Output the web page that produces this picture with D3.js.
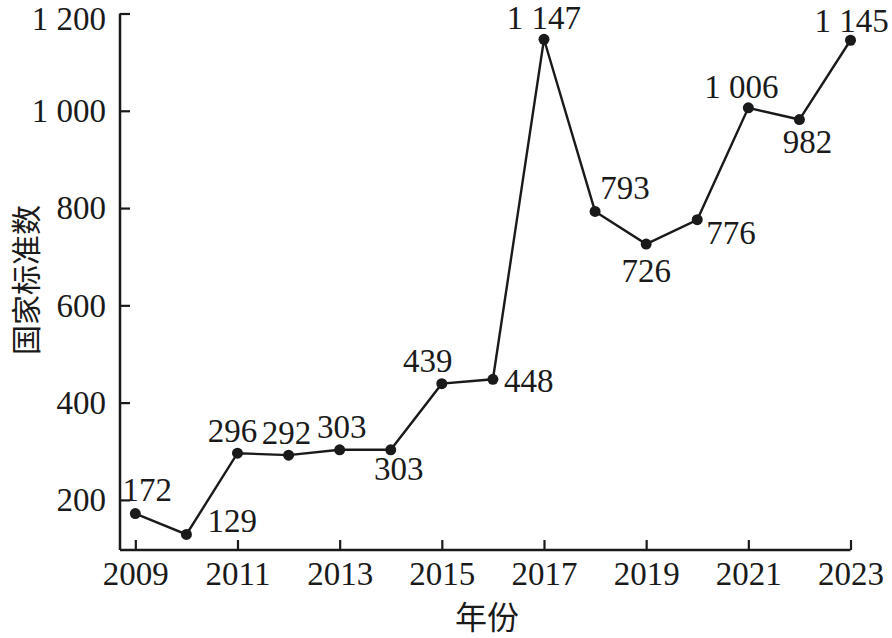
<!DOCTYPE html>
<html><head><meta charset="utf-8">
<script src="https://cdn.jsdelivr.net/npm/d3@7/dist/d3.min.js"></script>
<style>
body{margin:0;background:#fff;}
svg text{font-family:"Liberation Serif","Times New Roman","Noto Serif CJK SC","Noto Sans CJK SC",serif;fill:#1a1a1a;}
</style></head>
<body>
<svg id="c" width="892" height="638"></svg>
<script>
const years = [2009,2010,2011,2012,2013,2014,2015,2016,2017,2018,2019,2020,2021,2022,2023];
const values = [172,129,296,292,303,303,439,448,1147,793,726,776,1006,982,1145];
const yTicks = [200,400,600,800,1000,1200];
const xTicks = [2009,2011,2013,2015,2017,2019,2021,2023];
const xTitle = "年份";
const yTitle = "国家标准数";
// label placement: [dx, dy, anchor]
const labelPos = [
  [12,-13,"middle"],[21,-2,"start"],[-5,-11,"middle"],[-2,-11,"middle"],[2,-12,"middle"],
  [8,30,"middle"],[-14,-12,"middle"],[11,13,"start"],[0,-10,"middle"],[30,-12,"middle"],
  [0,38,"middle"],[9,24,"start"],[-7,-10,"middle"],[8,33,"middle"],[1,-8,"middle"]
];

const svg = d3.select("#c");
const x = d3.scaleLinear().domain([2008.7, 2023]).range([120, 850.5]);
const y = d3.scaleLinear().domain([97, 1200]).range([550, 13.5]);
const fmtL = v => d3.format(",")(v).replace(/,/g, " ");

// y axis
const ya = svg.append("g").attr("transform","translate(120,0)")
  .call(d3.axisLeft(y).tickValues(yTicks).tickSize(-10).tickPadding(14).tickFormat(fmtL));
ya.select(".domain").attr("d", `M0,${y(1200)}V550`).attr("stroke","#1a1a1a").attr("stroke-width",2.5);
ya.selectAll(".tick line").attr("stroke","#1a1a1a").attr("stroke-width",2.2);
ya.selectAll(".tick text").attr("font-size",33).attr("dy",d=>d===1200?"0.48em":"0.33em").style("font-family",'"Liberation Serif",serif').attr("fill","#1a1a1a");

// x axis
const xa = svg.append("g").attr("transform","translate(0,550)")
  .call(d3.axisBottom(x).tickValues(xTicks).tickSize(-10).tickPadding(11).tickFormat(d3.format("d")));
xa.select(".domain").attr("d", `M120,0H${x(2023)}`).attr("stroke","#1a1a1a").attr("stroke-width",2.5);
xa.selectAll(".tick line").attr("stroke","#1a1a1a").attr("stroke-width",2.2);
xa.selectAll(".tick text").attr("font-size",33).attr("dy","0.72em").style("font-family",'"Liberation Serif",serif').attr("fill","#1a1a1a");

const data = years.map((yr,i)=>({yr, v:values[i], p:labelPos[i]}));

svg.append("path").datum(data)
  .attr("d", d3.line().x(d=>x(d.yr)).y(d=>y(d.v)))
  .attr("fill","none").attr("stroke","#1a1a1a").attr("stroke-width",2.4);

svg.selectAll("circle.pt").data(data).join("circle")
  .attr("cx",d=>x(d.yr)).attr("cy",d=>y(d.v)).attr("r",5.5).attr("fill","#1a1a1a");

svg.selectAll("text.lbl").data(data).join("text").attr("class","lbl")
  .attr("x",d=>x(d.yr)+d.p[0]).attr("y",d=>y(d.v)+d.p[1])
  .attr("text-anchor",d=>d.p[2]).attr("font-size",33)
  .text(d=>fmtL(d.v));

svg.append("text").attr("x",487).attr("y",629).attr("text-anchor","middle")
  .attr("font-size",32).style("font-family",'"Noto Sans CJK SC",sans-serif').text(xTitle);
svg.append("text").attr("transform","translate(37,280) rotate(-90)").attr("text-anchor","middle")
  .attr("font-size",30).style("font-family",'"Noto Sans CJK SC",sans-serif').text(yTitle);
</script>
</body></html>
